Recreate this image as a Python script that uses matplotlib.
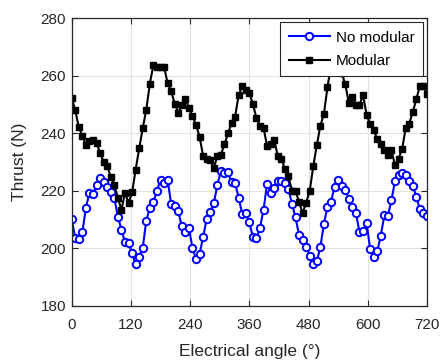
import numpy as np
import matplotlib
matplotlib.use("Agg")
import matplotlib.pyplot as plt

plt.rcParams['font.family'] = ['Liberation Sans', 'DejaVu Sans']

# electrical angle grid, 101 samples from 0 to 720 deg
angle = np.linspace(0, 720, 101)

no_modular = [
    210.2, 203.5, 203.3, 205.5, 214.1, 219.3, 218.8, 222.0, 224.5, 223.2,
    221.4, 219.5, 217.6, 210.9, 206.5, 202.0, 201.8, 198.2, 194.5, 197.1,
    200.2, 209.6, 214.1, 216.1, 220.0, 223.9, 222.6, 223.9, 215.3, 214.7,
    212.8, 207.6, 205.6, 207.1, 200.0, 196.2, 198.0, 204.0, 210.2, 212.5,
    215.6, 222.0, 226.8, 226.1, 226.4, 222.9, 222.6, 217.5, 211.9, 212.4,
    209.1, 203.8, 203.4, 207.2, 213.4, 222.5, 219.2, 220.9, 223.3, 223.4,
    222.8, 220.6, 215.4, 210.7, 204.5, 202.7, 200.4, 197.4, 194.5, 195.4,
    200.5, 208.5, 214.5, 216.2, 221.4, 223.8, 221.8, 220.4, 217.1, 214.5,
    212.4, 205.5, 205.9, 208.8, 199.8, 197.1, 198.9, 204.4, 211.4, 211.2,
    216.7, 223.4, 225.6, 226.2, 225.5, 223.5, 221.8, 217.9, 213.5, 212.4,
    211.1,
]

modular = [
    252.4, 248.0, 242.1, 239.1, 235.8, 237.4, 237.5, 236.5, 233.2, 230.0,
    228.5, 224.8, 222.1, 217.6, 213.3, 219.3, 215.8, 219.4, 227.3, 234.7,
    241.8, 248.2, 257.3, 263.8, 262.9, 262.9, 263.2, 257.4, 254.7, 250.2,
    247.1, 250.0, 252.0, 248.8, 245.9, 242.9, 238.8, 232.0, 231.2, 230.6,
    227.9, 232.0, 232.6, 236.1, 240.0, 243.5, 245.8, 253.3, 256.5, 255.1,
    254.1, 250.2, 245.3, 242.6, 241.8, 235.6, 236.1, 237.8, 232.1, 231.2,
    227.6, 225.1, 219.8, 219.8, 216.2, 212.1, 215.9, 220.0, 228.5, 235.9,
    242.6, 246.8, 256.1, 263.5, 265.0, 262.0, 261.0, 257.0, 250.6, 252.6,
    250.0, 249.8, 253.3, 246.5, 243.2, 241.2, 237.9, 236.1, 234.1, 232.4,
    234.1, 228.8, 231.2, 234.4, 241.8, 243.3, 247.4, 251.8, 256.5, 256.5,
    253.8,
]

fig = plt.figure(figsize=(4.42, 3.61), dpi=100)
ax = fig.add_axes([0.1622, 0.1532, 0.966 - 0.1622, 0.9493 - 0.1532])

ax.plot(angle, no_modular, color='blue', lw=1.5, marker='o', ms=5.3,
        mfc='white', mec='blue', mew=1.4, label='No modular')
ax.plot(angle, modular, color='black', lw=1.5, marker='s', ms=4.5,
        mfc='black', mec='black', label='Modular')

ax.set_xlim(0, 720)
ax.set_ylim(180, 280)
ax.set_xticks(np.arange(0, 721, 120))
ax.set_yticks(np.arange(180, 281, 20))
ax.grid(True, color='#e3e3e3', lw=0.8)
ax.set_axisbelow(True)
ax.tick_params(direction='in', top=True, right=True, length=4, width=0.8,
               labelsize=11, colors='#262626')
ax.tick_params(axis='x', pad=9)
ax.tick_params(axis='y', pad=4)
for s in ax.spines.values():
    s.set_color('#262626')
    s.set_linewidth(0.9)

ax.set_xlabel('Electrical angle (°)', fontsize=12.5, color='#262626', labelpad=8.5)
ax.set_ylabel('Thrust (N)', fontsize=12.5, color='#262626', labelpad=9.5)

leg = ax.legend(loc='upper right', fontsize=11, numpoints=1, handlelength=2.7,
                handletextpad=0.4, labelspacing=0.62, borderpad=0.55,
                borderaxespad=0.25, fancybox=False, framealpha=1)
leg.get_frame().set_edgecolor('#262626')
leg.get_frame().set_linewidth(0.8)

fig.savefig('out.png', dpi=100)
